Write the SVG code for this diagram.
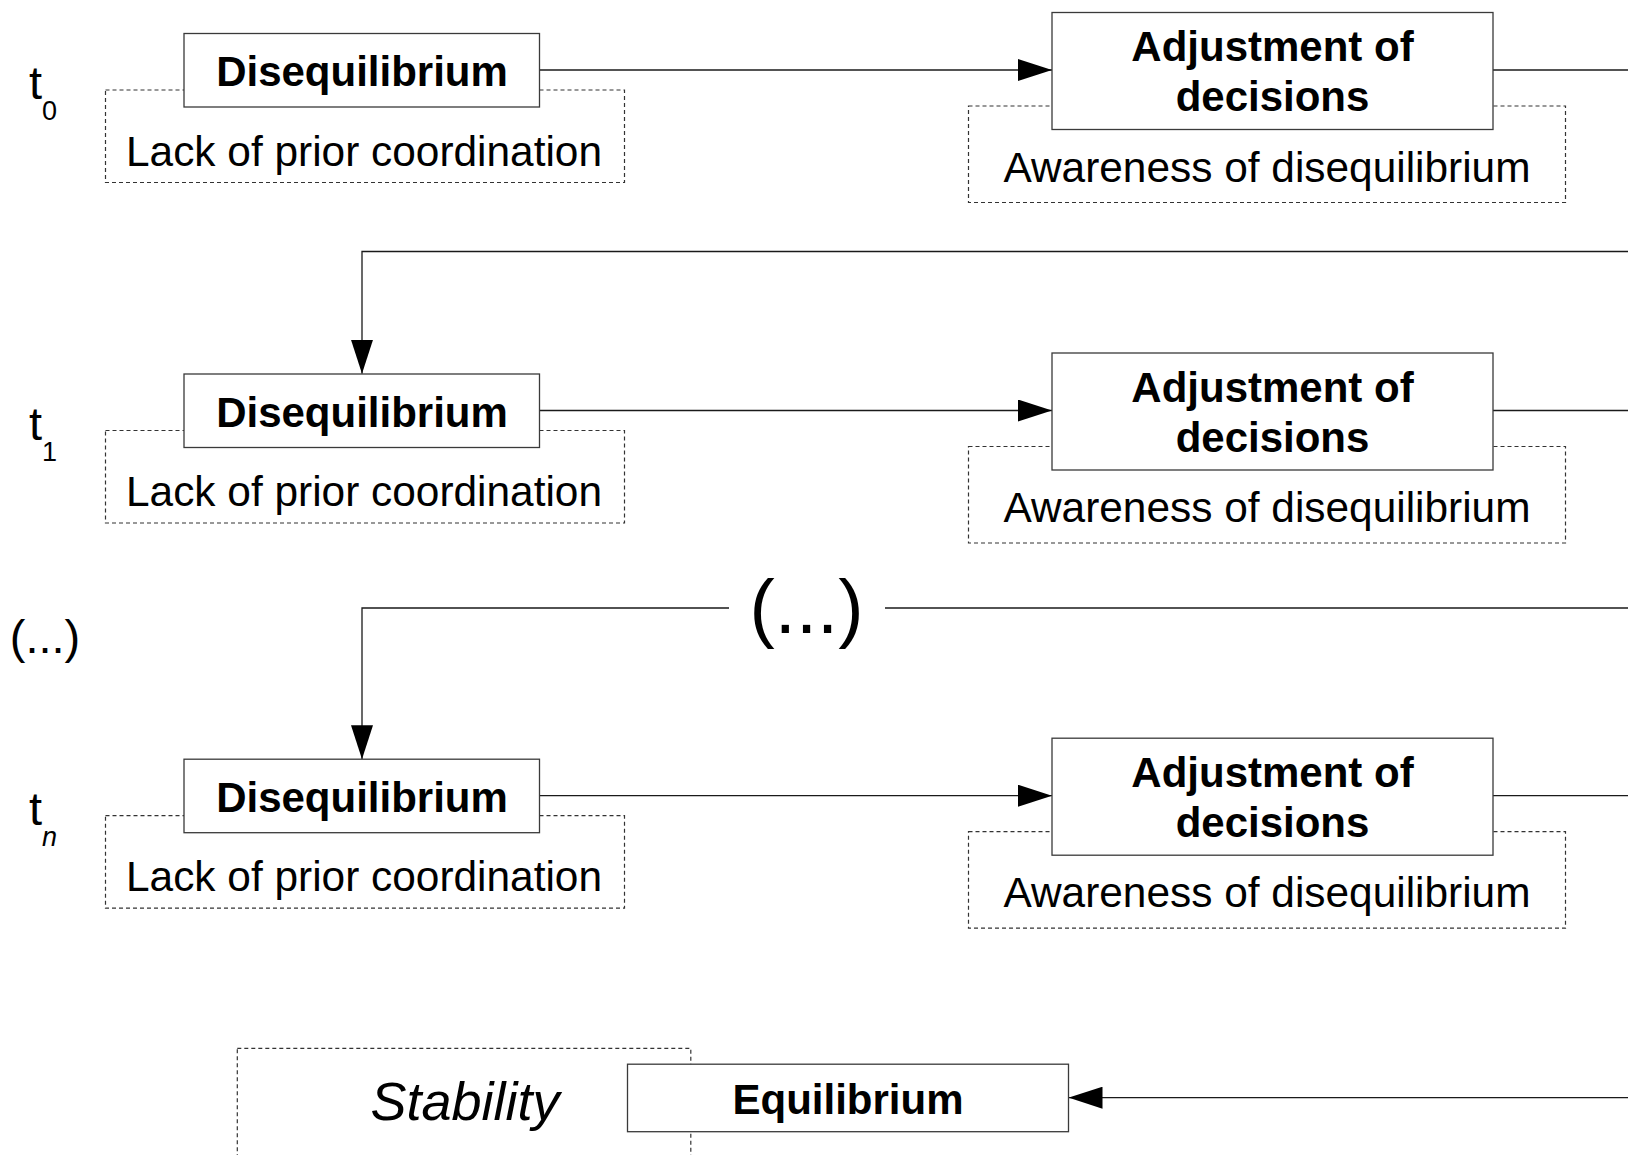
<svg xmlns="http://www.w3.org/2000/svg" width="1628" height="1155" viewBox="0 0 1628 1155">
<style>
.dash{fill:none;stroke:#333;stroke-width:1.2;stroke-dasharray:4 3}
.box{fill:#fff;stroke:#3a3a3a;stroke-width:1.3}
.b{font-family:"Liberation Sans",Arial,sans-serif;font-weight:bold;font-size:42px;text-anchor:middle;fill:#000}
.r{font-family:"Liberation Sans",Arial,sans-serif;font-size:42.4px;text-anchor:middle;fill:#000}
.lab{font-family:"Liberation Sans",Arial,sans-serif;fill:#000}
.con{fill:none;stroke:#1a1a1a;stroke-width:1.3}
</style>
<defs>
<marker id="ah" markerUnits="userSpaceOnUse" markerWidth="34" markerHeight="22" refX="34" refY="11" orient="auto">
<path d="M0,0 L34,11 L0,22 Z" fill="#000"/>
</marker>
</defs>
<rect width="1628" height="1155" fill="#fff"/>

<g id="labels">
<text class="lab" x="29" y="99" font-size="47">t<tspan font-size="27" dy="21">0</tspan></text>
<text class="lab" x="29" y="439.5" font-size="47">t<tspan font-size="27" dy="21">1</tspan></text>
<text class="lab" x="29" y="824.7" font-size="47">t<tspan font-size="27" dy="21" font-style="italic">n</tspan></text>
<text class="lab" x="45" y="653" font-size="47" text-anchor="middle">(...)</text>
<text class="lab" x="806.5" y="633" font-size="76" text-anchor="middle">(...)</text>
</g>

<g id="connectors">
<path class="con" d="M540,70 H1052" marker-end="url(#ah)"/>
<path class="con" d="M1493,70 H1628"/>
<path class="con" d="M1628,251.5 H362 V373.8" marker-end="url(#ah)"/>
<path class="con" d="M540,410.5 H1052" marker-end="url(#ah)"/>
<path class="con" d="M1493,410.5 H1628"/>
<path class="con" d="M1628,608 H885"/>
<path class="con" d="M729,608 H362 V759.2" marker-end="url(#ah)"/>
<path class="con" d="M540,795.7 H1052" marker-end="url(#ah)"/>
<path class="con" d="M1493,795.7 H1628"/>
<path class="con" d="M1628,1097.7 H1068.5" marker-end="url(#ah)"/>
</g>

<g id="lack0"><rect class="dash" x="105.5" y="90" width="519" height="92.5"/><text class="r" x="364" y="165.5">Lack of prior coordination</text></g>
<g id="diseq0"><rect class="box" x="184" y="33.5" width="355.5" height="73.5"/><text class="b" x="362" y="86">Disequilibrium</text></g>
<g id="aware0"><rect class="dash" x="968.5" y="106" width="597" height="96.5"/><text class="r" x="1267" y="181.5">Awareness of disequilibrium</text></g>
<g id="adjust0"><rect class="box" x="1052" y="12.5" width="441" height="117"/><text class="b" x="1272.5" y="61">Adjustment of</text><text class="b" x="1272.5" y="111">decisions</text></g>

<g id="lack1"><rect class="dash" x="105.5" y="430.5" width="519" height="92.5"/><text class="r" x="364" y="506">Lack of prior coordination</text></g>
<g id="diseq1"><rect class="box" x="184" y="374" width="355.5" height="73.5"/><text class="b" x="362" y="426.5">Disequilibrium</text></g>
<g id="aware1"><rect class="dash" x="968.5" y="446.5" width="597" height="96.5"/><text class="r" x="1267" y="522">Awareness of disequilibrium</text></g>
<g id="adjust1"><rect class="box" x="1052" y="353" width="441" height="117"/><text class="b" x="1272.5" y="401.5">Adjustment of</text><text class="b" x="1272.5" y="451.5">decisions</text></g>

<g id="lackn"><rect class="dash" x="105.5" y="815.7" width="519" height="92.5"/><text class="r" x="364" y="891.2">Lack of prior coordination</text></g>
<g id="diseqn"><rect class="box" x="184" y="759.2" width="355.5" height="73.5"/><text class="b" x="362" y="811.7">Disequilibrium</text></g>
<g id="awaren"><rect class="dash" x="968.5" y="831.7" width="597" height="96.5"/><text class="r" x="1267" y="907.2">Awareness of disequilibrium</text></g>
<g id="adjustn"><rect class="box" x="1052" y="738.2" width="441" height="117"/><text class="b" x="1272.5" y="786.7">Adjustment of</text><text class="b" x="1272.5" y="836.7">decisions</text></g>

<g id="stability"><rect class="dash" x="237.3" y="1048.3" width="453.5" height="130"/><text class="lab" x="465" y="1119.5" font-size="54" font-style="italic" text-anchor="middle">Stability</text></g>
<g id="equilibrium"><rect class="box" x="627.5" y="1064.2" width="441" height="67.5"/><text class="b" x="848" y="1114">Equilibrium</text></g>
</svg>
